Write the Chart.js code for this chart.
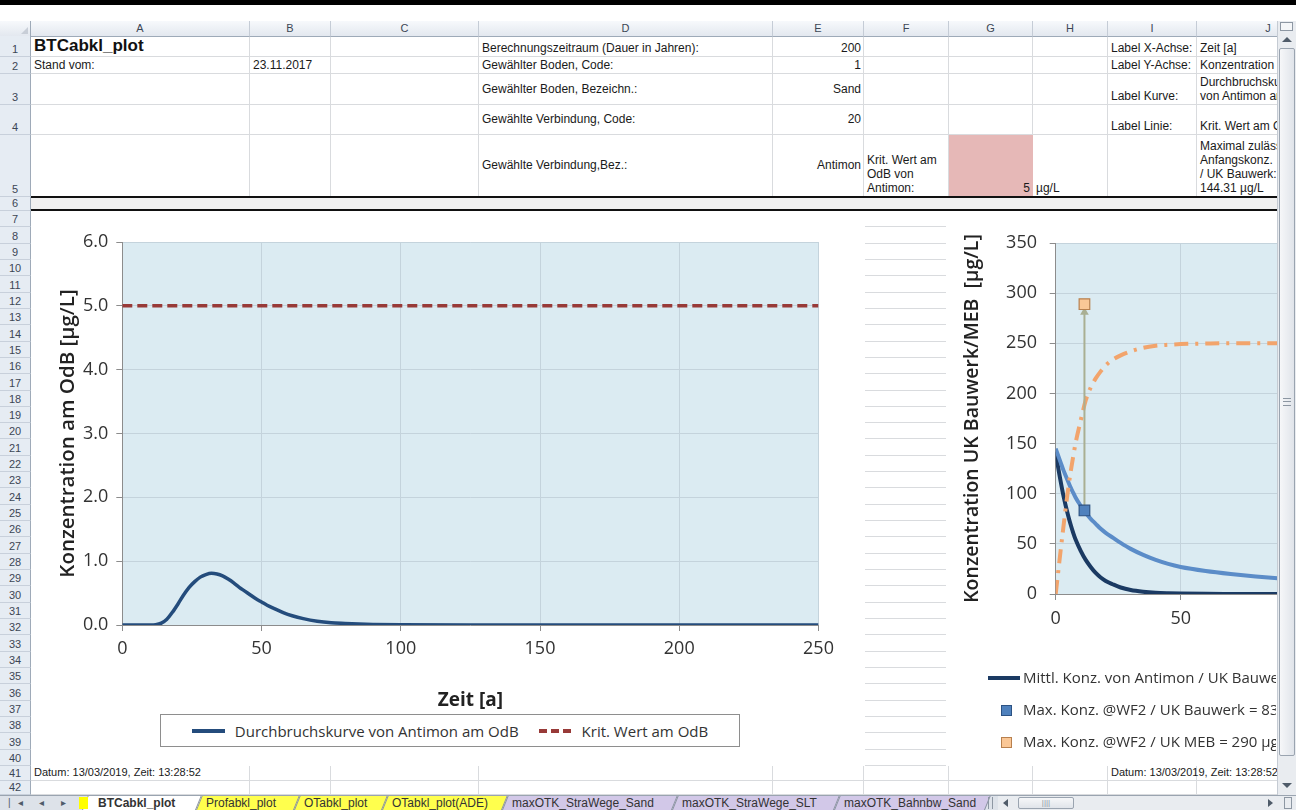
<!DOCTYPE html>
<html><head><meta charset="utf-8"><title>BTCabkl_plot</title>
<script src="https://cdn.jsdelivr.net/npm/chart.js@4.4.1/dist/chart.umd.min.js"></script>
<style>
html,body{margin:0;padding:0;}
body{width:1296px;height:810px;overflow:hidden;position:relative;background:#fff;font-family:"Liberation Sans",Arial,sans-serif;font-size:12px;color:#1a1a1a;}
.hl{position:absolute;height:1px;background:#D9DBDE;}
.vl{position:absolute;width:1px;background:#D9DBDE;}
.colhdr{position:absolute;top:21px;height:16px;background:linear-gradient(#F7F9FC,#E3E8EF);border-right:1px solid #C5CCD6;border-bottom:1px solid #9EAAB8;box-sizing:border-box;text-align:center;font-size:11px;line-height:15px;color:#3C4655;}
.rowhdr{position:absolute;left:0;width:31px;background:#E6ECF3;border-bottom:1px solid #C8D0DB;border-right:1px solid #9EAAB8;box-sizing:border-box;font-size:11px;color:#3C4655;display:flex;align-items:flex-end;justify-content:center;line-height:13px;}
.cell{position:absolute;box-sizing:border-box;padding:0 3px 1px 3px;display:flex;flex-direction:column;overflow:hidden;white-space:nowrap;line-height:14px;}
.chartbox{position:absolute;background:#fff;overflow:hidden;}
.chartbox canvas{position:absolute;left:0;top:0;}
.leg{position:absolute;font-family:"Open Sans",sans-serif;font-size:15px;color:#333;white-space:nowrap;}
.tab{position:absolute;top:796px;height:14px;}
.tabbg{position:absolute;left:0;top:0;right:0;bottom:0;transform:skewX(-22deg);transform-origin:0 100%;border-left:1px solid #8A93A0;border-right:1px solid #8A93A0;}
.tabtx{position:absolute;top:0;left:0;right:0;font-size:12px;line-height:14px;color:#333;white-space:nowrap;}
</style>
</head><body>
<div id="sheet"></div>

<script>
// ---------------- DATA ----------------
const btcTime = [0, 5, 10, 12, 14, 16, 18, 20, 22, 24, 26, 28, 30, 32, 34, 36, 38, 40, 42, 44, 46, 48, 50, 52, 55, 58, 61, 65, 70, 75, 80, 85, 90, 100, 125, 150, 175, 200, 225, 250];
const btcConc = [0, 0, 0, 0.005, 0.03, 0.09, 0.2, 0.33, 0.47, 0.59, 0.68, 0.75, 0.79, 0.81, 0.8, 0.77, 0.72, 0.66, 0.59, 0.53, 0.47, 0.41, 0.36, 0.31, 0.25, 0.19, 0.145, 0.1, 0.06, 0.036, 0.024, 0.014, 0.008, 0.002, 0, 0, 0, 0, 0, 0];
const kritTime = [0, 250];
const kritConc = [5, 5];
const leftXTicks = [0, 50, 100, 150, 200, 250];
const leftYTicks = [0, 1, 2, 3, 4, 5, 6];
const leftLabels = ['Durchbruchskurve von Antimon am OdB', 'Krit. Wert am OdB'];

const ukTime    = [0, 1, 2, 3, 4, 5, 6, 7, 8, 10, 12, 14, 16, 18, 20, 23, 26, 30, 35, 40, 45, 50, 60, 70, 80, 90, 100, 120, 140, 160, 180, 200];
const ukMittl   = [142, 126, 112, 99, 88, 78, 69, 61, 54, 43, 34, 27, 21, 16.5, 13, 9.5, 6.5, 4, 2.3, 1.3, 0.8, 0.5, 0.2, 0.1, 0.05, 0, 0, 0, 0, 0, 0, 0];
const ukBauwerk = [145, 138, 131, 124, 118, 112, 106, 101, 96, 88, 81, 75, 70, 65, 61, 56, 51, 45, 39, 34, 30, 27, 23, 20, 17.5, 15.5, 14, 11.5, 9.8, 8.5, 7.5, 6.7];
const ukMEB     = [0, 22, 44, 65, 86, 105, 122, 137, 151, 173, 193, 206, 215, 222, 228, 234, 238, 242, 245.5, 247.5, 248.5, 249.2, 249.7, 250, 250, 250, 250, 250, 250, 250, 250, 250];
const wf2Time = [11.5];
const wf2Bauwerk = [83.3];
const wf2MEB = [289];
const arrowTime = [11.5, 11.5];
const arrowConc = [83.3, 281];
const rightXTicks = [0, 50, 100, 150, 200];
const rightYTicks = [0, 50, 100, 150, 200, 250, 300, 350];
const rightLabels = ['Mittl. Konz. von Antimon / UK Bauwerk', 'Max. Konz. @WF2 / UK Bauwerk = 83 µg/L', 'Max. Konz. @WF2 / UK MEB = 290 µg/L'];

const colNames = ['A','B','C','D','E','F','G','H','I','J'];
const sheetTabs = ['BTCabkl_plot','Profabkl_plot','OTabkl_plot','OTabkl_plot(ADE)','maxOTK_StraWege_Sand','maxOTK_StraWege_SLT','maxOTK_Bahnbw_Sand'];
const dateText = 'Datum: 13/03/2019, Zeit: 13:28:52';

// ---------------- SHEET ----------------
const sheet = document.getElementById('sheet');
const colEdges = [31, 250, 331, 479, 773, 864, 949, 1033, 1108, 1197, 1340];
function rowTop(r){
  if (r <= 7) return [0, 36, 57, 74, 105, 135, 197, 211][r];
  if (r <= 41) return 211 + (r - 7) * 16.32;
  if (r === 42) return 781;
  return 795;
}
function el(tag, cls, style, html){
  const e = document.createElement(tag);
  if (cls) e.className = cls;
  if (style) e.style.cssText = style;
  if (html !== undefined) e.innerHTML = html;
  sheet.appendChild(e);
  return e;
}
el('div', '', 'position:absolute;left:0;top:0;width:1296px;height:5px;background:#000;');
el('div', '', 'position:absolute;left:0;top:21px;width:31px;height:16px;background:linear-gradient(#F7F9FC,#E3E8EF);border-right:1px solid #9EAAB8;border-bottom:1px solid #9EAAB8;box-sizing:border-box;');
el('div', '', 'position:absolute;left:21px;top:27px;width:0;height:0;border-left:7px solid transparent;border-bottom:7px solid #C8CED7;');
colNames.forEach((n, i) => {
  el('div', 'colhdr', `left:${colEdges[i]}px;width:${colEdges[i+1]-colEdges[i]}px;`, n);
});
for (let r = 1; r <= 42; r++) {
  const t = rowTop(r), b = rowTop(r + 1);
  el('div', 'rowhdr', `top:${t}px;height:${b - t}px;`, String(r));
  el('div', 'hl', `left:31px;width:1265px;top:${b - 1}px;`);
}
colEdges.slice(1).forEach(x => el('div', 'vl', `left:${x - 1}px;top:37px;height:758px;`));
el('div', '', 'position:absolute;left:31px;top:196px;width:1265px;height:15px;background:#F0F0F0;border-top:2px solid #111;border-bottom:2px solid #111;box-sizing:border-box;');
function cell(c, r, lines, opt){
  opt = opt || {};
  const ci = colNames.indexOf(c);
  const x = colEdges[ci], w = (opt.span ? colEdges[ci + opt.span] : colEdges[ci + 1]) - x;
  const t = rowTop(r), h = rowTop(r + 1) - t;
  const jc = opt.v === 'c' ? 'center' : 'flex-end';
  const ai = opt.h === 'r' ? 'flex-end' : 'flex-start';
  const e = el('div', 'cell', `left:${x}px;top:${t}px;width:${w}px;height:${h - 1}px;justify-content:${jc};align-items:${ai};` + (opt.bg ? `background:${opt.bg};` : '') + (opt.css || ''));
  e.innerHTML = lines.map(s => `<span>${s}</span>`).join('');
  return e;
}
cell('A', 1, ['BTCabkl_plot'], {css:'font-weight:bold;font-size:17px;line-height:19px;color:#111;', span:2});
cell('D', 1, ['Berechnungszeitraum (Dauer in Jahren):']);
cell('E', 1, ['200'], {h:'r'});
cell('I', 1, ['Label X-Achse:']);
cell('J', 1, ['Zeit [a]']);
cell('A', 2, ['Stand vom:']);
cell('B', 2, ['23.11.2017']);
cell('D', 2, ['Gewählter Boden, Code:']);
cell('E', 2, ['1'], {h:'r'});
cell('I', 2, ['Label Y-Achse:']);
cell('J', 2, ['Konzentration am OdB [µg/L]']);
cell('D', 3, ['Gewählter Boden, Bezeichn.:'], {v:'c'});
cell('E', 3, ['Sand'], {h:'r', v:'c'});
cell('I', 3, ['Label Kurve:']);
cell('J', 3, ['Durchbruchskurve', 'von Antimon am OdB']);
cell('D', 4, ['Gewählte Verbindung, Code:'], {v:'c'});
cell('E', 4, ['20'], {h:'r', v:'c'});
cell('I', 4, ['Label Linie:']);
cell('J', 4, ['Krit. Wert am OdB']);
cell('D', 5, ['Gewählte Verbindung,Bez.:'], {v:'c'});
cell('E', 5, ['Antimon'], {h:'r', v:'c'});
cell('F', 5, ['Krit. Wert am', 'OdB von', 'Antimon:']);
cell('G', 5, ['5'], {h:'r', bg:'#E6B8B7'});
cell('H', 5, ['µg/L']);
cell('J', 5, ['Maximal zulässige', 'Anfangskonz.', '/ UK Bauwerk:', '144.31 µg/L']);
cell('A', 41, [dateText], {span:3, css:'font-size:11px;'});
cell('I', 41, [dateText], {span:2, css:'font-size:11px;'});

el('div', 'chartbox', 'left:31px;top:211px;width:834px;height:555px;', '<canvas id="cL" width="834" height="555"></canvas>');
el('div', 'chartbox', 'left:946px;top:211px;width:720px;height:555px;', '<canvas id="cR" width="720" height="555"></canvas>');

// ---------------- CHARTS ----------------
const FONT = '"Open Sans", sans-serif';
const PLOT_BG = '#DBEBF2';
const GRID = '#C4D3DC';
const AXIS = '#8C8C8C';
const TXT = '#333333';
const plotBg = {
  id: 'plotBg',
  beforeDraw(c){
    const {ctx, chartArea:a} = c;
    ctx.save(); ctx.fillStyle = PLOT_BG;
    ctx.fillRect(a.left, a.top, a.right - a.left, a.bottom - a.top);
    ctx.restore();
  }
};
const pts = (xs, ys) => xs.map((x, i) => ({x, y: ys[i]}));
function axisX(min, max, ticks, pad, h, title){
  return {
    type:'linear', min, max,
    afterBuildTicks: s => { s.ticks = ticks.map(v => ({value:v})); },
    afterFit: s => { s.height = h; },
    ticks:{color:TXT, font:{family:FONT, size:18}, padding:pad, maxRotation:0, autoSkip:false},
    grid:{color:GRID, tickColor:AXIS, tickLength:6, lineWidth:1},
    border:{color:AXIS, width:1},
    title: title || {display:false}
  };
}
function axisY(min, max, ticks, pad, w, title, fmt){
  return {
    min, max,
    afterBuildTicks: s => { s.ticks = ticks.map(v => ({value:v})); },
    afterFit: s => { s.width = w; },
    ticks:{color:TXT, font:{family:FONT, size:18}, padding:pad, autoSkip:false, callback: fmt},
    grid:{color:GRID, tickColor:AXIS, tickLength:6, lineWidth:1},
    border:{color:AXIS, width:1},
    title
  };
}

const leftDatasets = [
  {label:leftLabels[0], data:pts(btcTime, btcConc), borderColor:'#244C7C', borderWidth:3.5, pointRadius:0, cubicInterpolationMode:'monotone', fill:false},
  {label:leftLabels[1], data:pts(kritTime, kritConc), borderColor:'#983A38', borderWidth:3.5, borderDash:[10,5], pointRadius:0, fill:false}
];
new Chart(document.getElementById('cL'), {
  type:'line',
  data:{datasets:leftDatasets},
  options:{
    responsive:false, animation:false, devicePixelRatio:1,
    layout:{padding:{top:31, right:46.5, bottom:41, left:0}},
    plugins:{legend:{display:false}, tooltip:{enabled:false}},
    scales:{
      x: axisX(0, 250, leftXTicks, 7, 100, {display:true, text:'Zeit [a]', color:'#222', font:{family:FONT, size:19, weight:'bold'}, padding:{top:0, bottom:13}}),
      y: axisY(0, 6, leftYTicks, 8, 91.3, {display:true, text:'Konzentration am OdB [µg/L]', color:'#222', font:{family:FONT, size:20.5, weight:'600'}, padding:{top:24.7, bottom:0}}, v => Number(v).toFixed(1))
    }
  },
  plugins:[plotBg]
});

const rightDatasets = [
  {label:rightLabels[1], data:pts(wf2Time, wf2Bauwerk), showLine:false, pointStyle:'rect', pointRadius:7.5, pointBackgroundColor:'#4F81BD', pointBorderColor:'#2C5283', pointBorderWidth:1.2, order:0},
  {label:rightLabels[2], data:pts(wf2Time, wf2MEB), showLine:false, pointStyle:'rect', pointRadius:7.5, pointBackgroundColor:'#FAC796', pointBorderColor:'#B8804E', pointBorderWidth:1.2, order:0},
  {label:'Pfeil', data:pts(arrowTime, arrowConc), borderColor:'#A9AF93', borderWidth:2, pointRadius:[0,5], pointStyle:'triangle', pointBackgroundColor:'#A9AF93', pointBorderWidth:0, order:1},
  {label:'MEB', data:pts(ukTime, ukMEB), borderColor:'#F2A46C', borderWidth:4, borderDash:[14,7,3,7], pointRadius:0, cubicInterpolationMode:'monotone', order:2},
  {label:'UK Bauwerk', data:pts(ukTime, ukBauwerk), borderColor:'#5B8CC8', borderWidth:4, pointRadius:0, cubicInterpolationMode:'monotone', order:3},
  {label:rightLabels[0], data:pts(ukTime, ukMittl), borderColor:'#1B3A63', borderWidth:4, pointRadius:0, cubicInterpolationMode:'monotone', order:4}
];
new Chart(document.getElementById('cR'), {
  type:'line',
  data:{datasets:rightDatasets},
  options:{
    responsive:false, animation:false, devicePixelRatio:1,
    layout:{padding:{top:32, right:110.3, bottom:112, left:0}},
    plugins:{legend:{display:false}, tooltip:{enabled:false}},
    scales:{
      x: axisX(0, 200, rightXTicks, 8, 60),
      y: axisY(0, 350, rightYTicks, 12.7, 109.7, {display:true, text:'Konzentration UK Bauwerk/MEB  [µg/L]', color:'#222', font:{family:FONT, size:19.5, weight:'600'}, padding:{top:14.3, bottom:0}}, v => String(v))
    }
  },
  plugins:[plotBg]
});

// ---------------- LEGENDS (HTML) ----------------
const legL = el('div', '', 'position:absolute;left:160px;top:714px;width:580px;height:33px;border:1px solid #8E8E8E;box-sizing:border-box;background:#fff;display:flex;align-items:center;justify-content:center;gap:10px;font-family:"Open Sans",sans-serif;font-size:15px;color:#333;white-space:nowrap;');
legL.innerHTML =
  `<span style="display:inline-block;width:33px;height:4px;background:${leftDatasets[0].borderColor};"></span><span>${leftLabels[0]}</span>` +
  `<span style="display:inline-block;width:33px;height:4px;margin-left:10px;background:repeating-linear-gradient(90deg,${leftDatasets[1].borderColor} 0 8px,transparent 8px 12px);"></span><span>${leftLabels[1]}</span>`;

const legR = el('div', '', 'position:absolute;left:946px;top:660px;width:330px;height:100px;overflow:hidden;');
const rowsR = [
  `<span style="position:absolute;left:42px;top:16px;width:32px;height:4px;background:${rightDatasets[5].borderColor};"></span>`,
  `<span style="position:absolute;left:55px;top:45px;width:11px;height:11px;box-sizing:border-box;background:#4F81BD;border:1px solid #2C5283;"></span>`,
  `<span style="position:absolute;left:55px;top:77px;width:11px;height:11px;box-sizing:border-box;background:#FAC796;border:1px solid #B8804E;"></span>`
];
legR.innerHTML = rowsR.join('') +
  `<span class="leg" style="left:77px;top:7px;">${rightLabels[0]}</span>` +
  `<span class="leg" style="left:77px;top:39px;">${rightLabels[1]}</span>` +
  `<span class="leg" style="left:77px;top:71px;">${rightLabels[2]}</span>`;

// ---------------- SCROLLBARS ----------------
el('div', '', 'position:absolute;left:1277px;top:21px;width:19px;height:775px;background:#E9ECF0;border-left:1px solid #C5CBD3;box-sizing:border-box;z-index:5;');
el('div', '', 'position:absolute;left:1280px;top:22px;width:13px;height:9px;border:1px solid #8D97A3;background:#F4F6F8;box-sizing:border-box;z-index:6;');
el('div', '', 'position:absolute;left:1282px;top:37px;width:0;height:0;border-left:5px solid transparent;border-right:5px solid transparent;border-bottom:5px solid #4F5B69;z-index:6;');
el('div', '', 'position:absolute;left:1279px;top:48px;width:16px;height:708px;border:1px solid #9AA4B0;border-radius:2px;background:linear-gradient(90deg,#F6F7F9,#E0E4EA);box-sizing:border-box;z-index:6;');
el('div', '', 'position:absolute;left:1283px;top:398px;width:8px;height:6px;border-top:1px solid #8C96A2;border-bottom:1px solid #8C96A2;z-index:7;');
el('div', '', 'position:absolute;left:1283px;top:401px;width:8px;height:1px;background:#8C96A2;z-index:7;');
el('div', '', 'position:absolute;left:1282px;top:783px;width:0;height:0;border-left:5px solid transparent;border-right:5px solid transparent;border-top:5px solid #4F5B69;z-index:6;');

// ---------------- SHEET TABS ----------------
el('div', '', 'position:absolute;left:0;top:795px;width:1296px;height:15px;background:#DDE2E9;border-top:1px solid #9AA4B0;box-sizing:border-box;z-index:8;');
el('div', '', 'position:absolute;left:8px;top:795px;width:70px;height:15px;font-size:10px;line-height:15px;color:#4F5B69;letter-spacing:7px;z-index:9;', '|◂ ◂ ▸ ▸|');
const tabX = [82, 196, 294, 382, 502, 672, 834, 985];
const tabBg = ['#FFFFFF', '#FFFF4D', '#FFFF4D', '#FFFF4D', '#D2C8E8', '#D2C8E8', '#D2C8E8'];
sheetTabs.forEach((name, i) => {
  const t = el('div', 'tab', `left:${tabX[i]}px;width:${tabX[i+1]-tabX[i]}px;z-index:${i===0?11:10};`);
  t.innerHTML = `<div class="tabbg" style="background:${tabBg[i]};"></div>` +
    (i === 0 ? '<div style="position:absolute;left:-3px;top:1px;width:9px;height:12px;background:#FFFF00;"></div>' : '') +
    `<div class="tabtx" style="left:${i===0?16:10}px;${i===0?'font-weight:bold;':''}">${name}</div>`;
});
el('div', '', 'position:absolute;left:988px;top:797px;width:5px;height:12px;border-left:1px solid #8D97A3;border-right:1px solid #8D97A3;box-sizing:border-box;z-index:12;');
el('div', '', 'position:absolute;left:998px;top:796px;width:298px;height:14px;background:#E9ECF0;z-index:12;');
el('div', '', 'position:absolute;left:1003px;top:799px;width:0;height:0;border-top:4px solid transparent;border-bottom:4px solid transparent;border-right:5px solid #4F5B69;z-index:13;');
el('div', '', 'position:absolute;left:1018px;top:797px;width:56px;height:12px;border:1px solid #9AA4B0;border-radius:2px;background:linear-gradient(#F6F7F9,#E0E4EA);box-sizing:border-box;z-index:13;text-align:center;font-size:8px;line-height:10px;color:#8C96A2;', '||||');
el('div', '', 'position:absolute;left:1268px;top:799px;width:0;height:0;border-top:4px solid transparent;border-bottom:4px solid transparent;border-left:5px solid #4F5B69;z-index:13;');
el('div', '', 'position:absolute;left:1284px;top:797px;width:8px;height:12px;border:1px solid #8D97A3;box-sizing:border-box;z-index:13;');
</script>
</body></html>
